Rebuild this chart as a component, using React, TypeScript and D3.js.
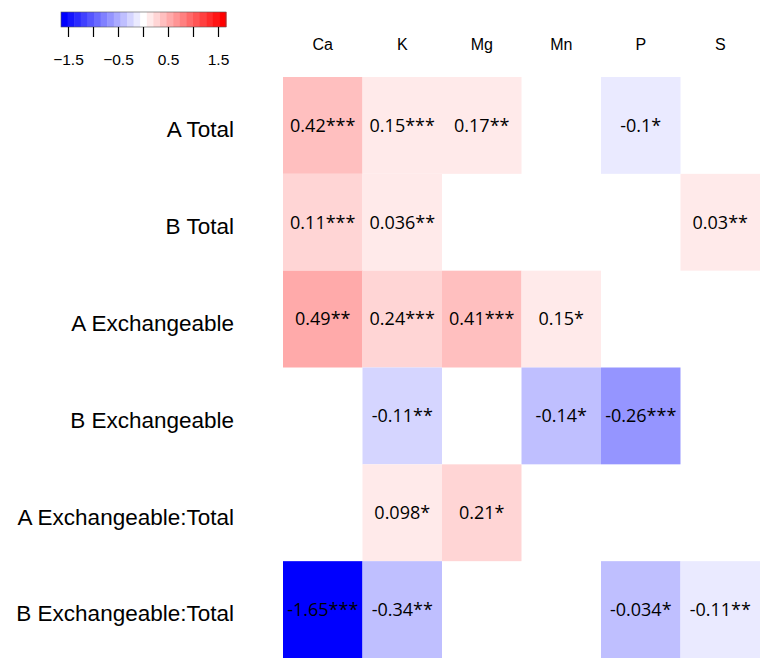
import React from 'react';
import * as d3 from 'd3';

const width = 762;
const height = 658;

const rowNames = ["A Total", "B Total", "A Exchangeable", "B Exchangeable", "A Exchangeable:Total", "B Exchangeable:Total"];
const colNames = ["Ca", "K", "Mg", "Mn", "P", "S"];

// printed coefficient + significance stars (null = empty cell)
const cellLabels = [
  ["0.42***", "0.15***", "0.17**", null, "-0.1*", null],
  ["0.11***", "0.036**", null, null, null, "0.03**"],
  ["0.49**", "0.24***", "0.41***", "0.15*", null, null],
  [null, "-0.11**", null, "-0.14*", "-0.26***", null],
  [null, "0.098*", "0.21*", null, null, null],
  ["-1.65***", "-0.34**", null, null, "-0.034*", "-0.11**"],
];

// value used for the fill colour
const cellShades = [
  [0.40, 0.13, 0.13, null, -0.13, null],
  [0.26, 0.13, null, null, null, 0.13],
  [0.53, 0.26, 0.40, 0.13, null, null],
  [null, -0.26, null, -0.40, -0.64, null],
  [null, 0.13, 0.26, null, null, null],
  [-1.65, -0.40, null, null, -0.40, -0.13],
];

const legendTicks = [-1.5, -1, -0.5, 0, 0.5, 1, 1.5];
const legendLabels = [-1.5, -0.5, 0.5, 1.5];

const nSteps = 25;
const ramp = d3.scaleLinear<string>()
  .domain([0, (nSteps - 1) / 2, nSteps - 1])
  .range(["#0000FF", "#FFFFFF", "#FF0000"])
  .interpolate(d3.interpolateRgb);
const palette = d3.range(nSteps).map(i => ramp(i));

const color = d3.scaleQuantize<string>().domain([-1.65, 1.65]).range(palette);

const x = d3.scaleBand().domain(colNames).range([283, 760]);
const y = d3.scaleBand().domain(rowNames).range([77, 658]);
const lx = d3.scaleLinear().domain([-1.65, 1.65]).range([61, 226]);
const fmt = d3.format(".1f");

const App = () => {
  const stepW = (lx(1.65) - lx(-1.65)) / nSteps;
  return (
    <svg width={width} height={height} style={{ position: 'absolute', left: 0, top: 0, background: '#fff' }}>
      {/* legend */}
      <g>
        {palette.map((c, i) => (
          <rect key={i} x={lx(-1.65) + i * stepW} y={12} width={stepW + 0.5} height={15} fill={c} />
        ))}
        <rect x={lx(-1.65)} y={12} width={lx(1.65) - lx(-1.65)} height={15} fill="none" stroke="#555" strokeWidth={0.6} />
        {legendTicks.map(t => (
          <line key={t} x1={lx(t)} x2={lx(t)} y1={27} y2={37} stroke="#000" strokeWidth={1.2} />
        ))}
        {legendLabels.map(t => (
          <text key={t} x={lx(t)} y={65} textAnchor="middle" fontFamily="Liberation Sans, Arial, sans-serif" fontSize={15.5}>
            {fmt(t)}
          </text>
        ))}
      </g>

      {/* cells */}
      {cellShades.map((row, ri) => row.map((v, ci) => v === null ? null : (
        <rect key={`r${ri}-${ci}`} x={x(colNames[ci])} y={y(rowNames[ri])}
          width={x.bandwidth()} height={y.bandwidth()} fill={color(v)} />
      )))}
      {cellLabels.map((row, ri) => row.map((lab, ci) => lab === null ? null : (
        <text key={`t${ri}-${ci}`} x={x(colNames[ci])! + x.bandwidth() / 2} y={y(rowNames[ri])! + y.bandwidth() / 2}
          dy="0.35em" textAnchor="middle" fontFamily="Open Sans, sans-serif" fontSize={18} fill="#000">
          {lab}
        </text>
      )))}

      {/* column headers */}
      {colNames.map(c => (
        <text key={c} x={x(c)! + x.bandwidth() / 2} y={44} dy="0.35em" textAnchor="middle"
          fontFamily="Liberation Sans, Arial, sans-serif" fontSize={16}>
          {c}
        </text>
      ))}

      {/* row labels */}
      {rowNames.map(r => (
        <text key={r} x={234} y={y(r)! + y.bandwidth() / 2 + 4} dy="0.35em" textAnchor="end"
          fontFamily="Liberation Sans, Arial, sans-serif" fontSize={22.5}>
          {r}
        </text>
      ))}
    </svg>
  );
};

export default App;
